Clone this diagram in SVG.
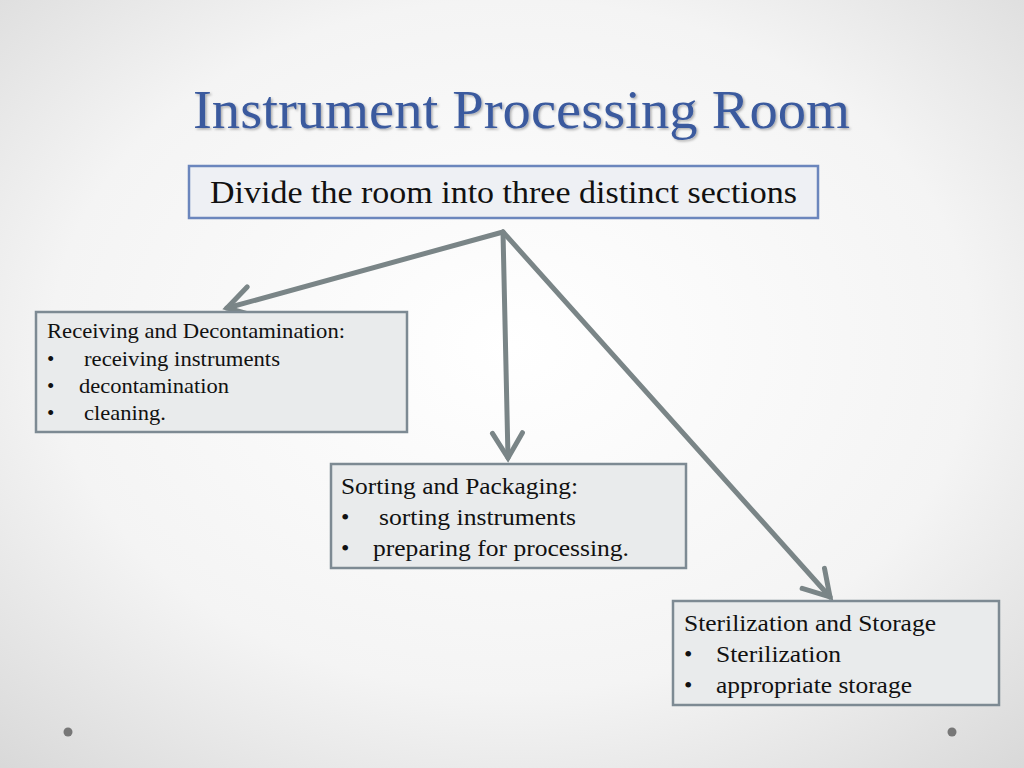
<svg xmlns="http://www.w3.org/2000/svg" width="1024" height="768" viewBox="0 0 1024 768">
<defs>
<radialGradient id="bg" cx="50%" cy="45%" r="75%">
<stop offset="0" stop-color="#ffffff"/><stop offset="0.6" stop-color="#f4f4f4"/><stop offset="1" stop-color="#d8d8d8"/>
</radialGradient>
<marker id="ah" markerWidth="8" markerHeight="8" refX="6" refY="4" orient="auto" markerUnits="strokeWidth">
<path d="M1,1 L6,4 L1,7" fill="none" stroke="#7a8587" stroke-width="1" stroke-linecap="round"/>
</marker>
<filter id="sh"><feDropShadow dx="1.5" dy="1.5" stdDeviation="1" flood-color="#000" flood-opacity="0.3"/></filter>
</defs>
<style>
.t{font-family:"Liberation Serif",serif;fill:#111}
.t tspan{}
.box{fill:#e9ebec;stroke:#7d8a93;stroke-width:2.5}
.c{stroke:#7a8587;stroke-width:5;fill:none;marker-end:url(#ah);stroke-linecap:round}
</style>
<rect width="1024" height="768" fill="url(#bg)"/>
<text x="193" y="128" textLength="657" lengthAdjust="spacingAndGlyphs" font-family="Liberation Serif,serif" font-size="54" fill="#3a5a9e" filter="url(#sh)">Instrument Processing Room</text>
<g id="top"><rect x="189" y="166" width="629" height="52" fill="#eef0f4" stroke="#6b86bd" stroke-width="2.5"/>
<text class="t" x="210" y="203" textLength="587" lengthAdjust="spacingAndGlyphs" font-size="31">Divide the room into three distinct sections</text></g>
<g id="connectors">
<path class="c" d="M503,232 L227,308"/>
<path class="c" d="M503,232 L508,458"/>
<path class="c" d="M503,232 L830,597"/>
</g>
<g id="n1"><rect class="box" x="36" y="312" width="371" height="120"/>
<text class="t" font-size="21"><tspan x="47" y="338" textLength="298" lengthAdjust="spacingAndGlyphs">Receiving and Decontamination:</tspan><tspan x="47" y="366">•</tspan><tspan x="84" y="366" textLength="196" lengthAdjust="spacingAndGlyphs">receiving instruments</tspan><tspan x="47" y="393">•</tspan><tspan x="79" y="393" textLength="150" lengthAdjust="spacingAndGlyphs">decontamination</tspan><tspan x="47" y="420">•</tspan><tspan x="84" y="420" textLength="82" lengthAdjust="spacingAndGlyphs">cleaning.</tspan></text></g>
<g id="n2"><rect class="box" x="331" y="464" width="355" height="104"/>
<text class="t" font-size="24"><tspan x="341" y="494" textLength="237" lengthAdjust="spacingAndGlyphs">Sorting and Packaging:</tspan><tspan x="341" y="525">•</tspan><tspan x="379" y="525" textLength="197" lengthAdjust="spacingAndGlyphs">sorting instruments</tspan><tspan x="341" y="556">•</tspan><tspan x="373" y="556" textLength="256" lengthAdjust="spacingAndGlyphs">preparing for processing.</tspan></text></g>
<g id="n3"><rect class="box" x="673" y="601" width="326" height="104"/>
<text class="t" font-size="24"><tspan x="684" y="631" textLength="252" lengthAdjust="spacingAndGlyphs">Sterilization and Storage</tspan><tspan x="684" y="662">•</tspan><tspan x="716" y="662" textLength="125" lengthAdjust="spacingAndGlyphs">Sterilization</tspan><tspan x="684" y="693">•</tspan><tspan x="716" y="693" textLength="196" lengthAdjust="spacingAndGlyphs">appropriate storage</tspan></text></g>
<circle cx="68" cy="732" r="4.5" fill="#777"/>
<circle cx="952" cy="732" r="4.5" fill="#777"/>
</svg>
